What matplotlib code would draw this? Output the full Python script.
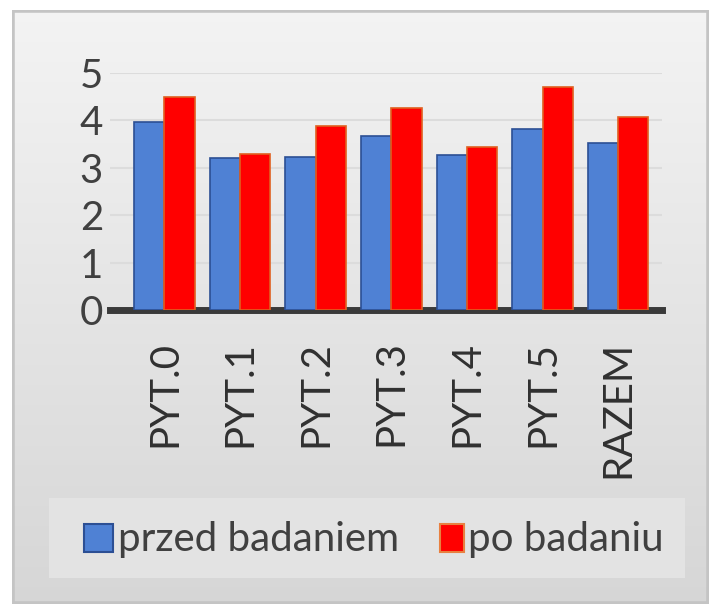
import numpy as np
import matplotlib.pyplot as plt
from matplotlib.patches import Rectangle

categories = ["PYT.0", "PYT.1", "PYT.2", "PYT.3", "PYT.4", "PYT.5", "RAZEM"]
przed = [3.97, 3.2, 3.23, 3.67, 3.27, 3.82, 3.52]
po = [4.49, 3.29, 3.88, 4.26, 3.44, 4.7, 4.07]
series_names = ["przed badaniem", "po badaniu"]

plt.rcParams['font.family'] = ['Lato', 'DejaVu Sans']

W, H = 709, 604
fig = plt.figure(figsize=(W / 100, H / 100), dpi=100)
fig.patch.set_facecolor("white")

# background gradient
bg = fig.add_axes([12 / W, 0, 1 - 12 / W, 1 - 10 / H])
grad = np.linspace(0.955, 0.84, 256).reshape(-1, 1)
bg.imshow(np.dstack([grad, grad, grad]), aspect="auto", extent=[0, 1, 0, 1])
bg.add_patch(Rectangle((0, 0), 1, 1, fill=False, edgecolor="#c4c4c4", lw=4,
                       transform=bg.transAxes))
bg.set_axis_off()

ax = fig.add_axes([110 / W, 1 - 310 / H, (662 - 110) / W, (310 - 73) / H])
ax.set_facecolor("none")
x = np.arange(len(categories))
w = 0.4
ax.bar(x - w / 2, przed, w, color="#4f81d4", edgecolor="#2c4f94", lw=1.2, zorder=3)
ax.bar(x + w / 2, po, w, color="#ff0000", edgecolor="#e06020", lw=1.2, zorder=3)

ax.set_xlim(-0.72, 6.58)
ax.set_ylim(0, 5)
ax.set_yticks(range(6))
ax.set_yticklabels([str(i) for i in range(6)], fontsize=29, color="#404040")
ax.set_xticks(x)
ax.set_xticklabels(categories, rotation=90, fontsize=29, color="#303030")
ax.tick_params(length=0)
ax.tick_params(axis="y", pad=5)
ax.tick_params(axis="x", pad=22)
ax.grid(axis="y", color="#dcdcdc", lw=1.5, zorder=0)
for s in ["top", "right", "left"]:
    ax.spines[s].set_visible(False)
ax.spines["bottom"].set_color("#3a3a3a")
ax.spines["bottom"].set_linewidth(5)

# legend box
lx0, lx1 = 49, 685
lw_ = lx1 - lx0
lax = fig.add_axes([lx0 / W, 1 - 578 / H, lw_ / W, 80 / H])
lax.set_xlim(0, lw_)
lax.set_ylim(80, 0)
lax.set_facecolor("#e3e3e3")
for s in lax.spines.values():
    s.set_visible(False)
lax.set_xticks([])
lax.set_yticks([])
lax.add_patch(Rectangle((84 - lx0, 26), 29, 28, facecolor="#4f81d4",
                        edgecolor="#2c4f94", lw=1.5))
lax.text(118 - lx0, 41, series_names[0], fontsize=29, color="#404040", va="center")
lax.add_patch(Rectangle((440 - lx0, 26), 24, 28, facecolor="#ff0000",
                        edgecolor="#e88040", lw=1.5))
lax.text(468 - lx0, 41, series_names[1], fontsize=29, color="#404040", va="center")

fig.savefig("out.png", dpi=100)
